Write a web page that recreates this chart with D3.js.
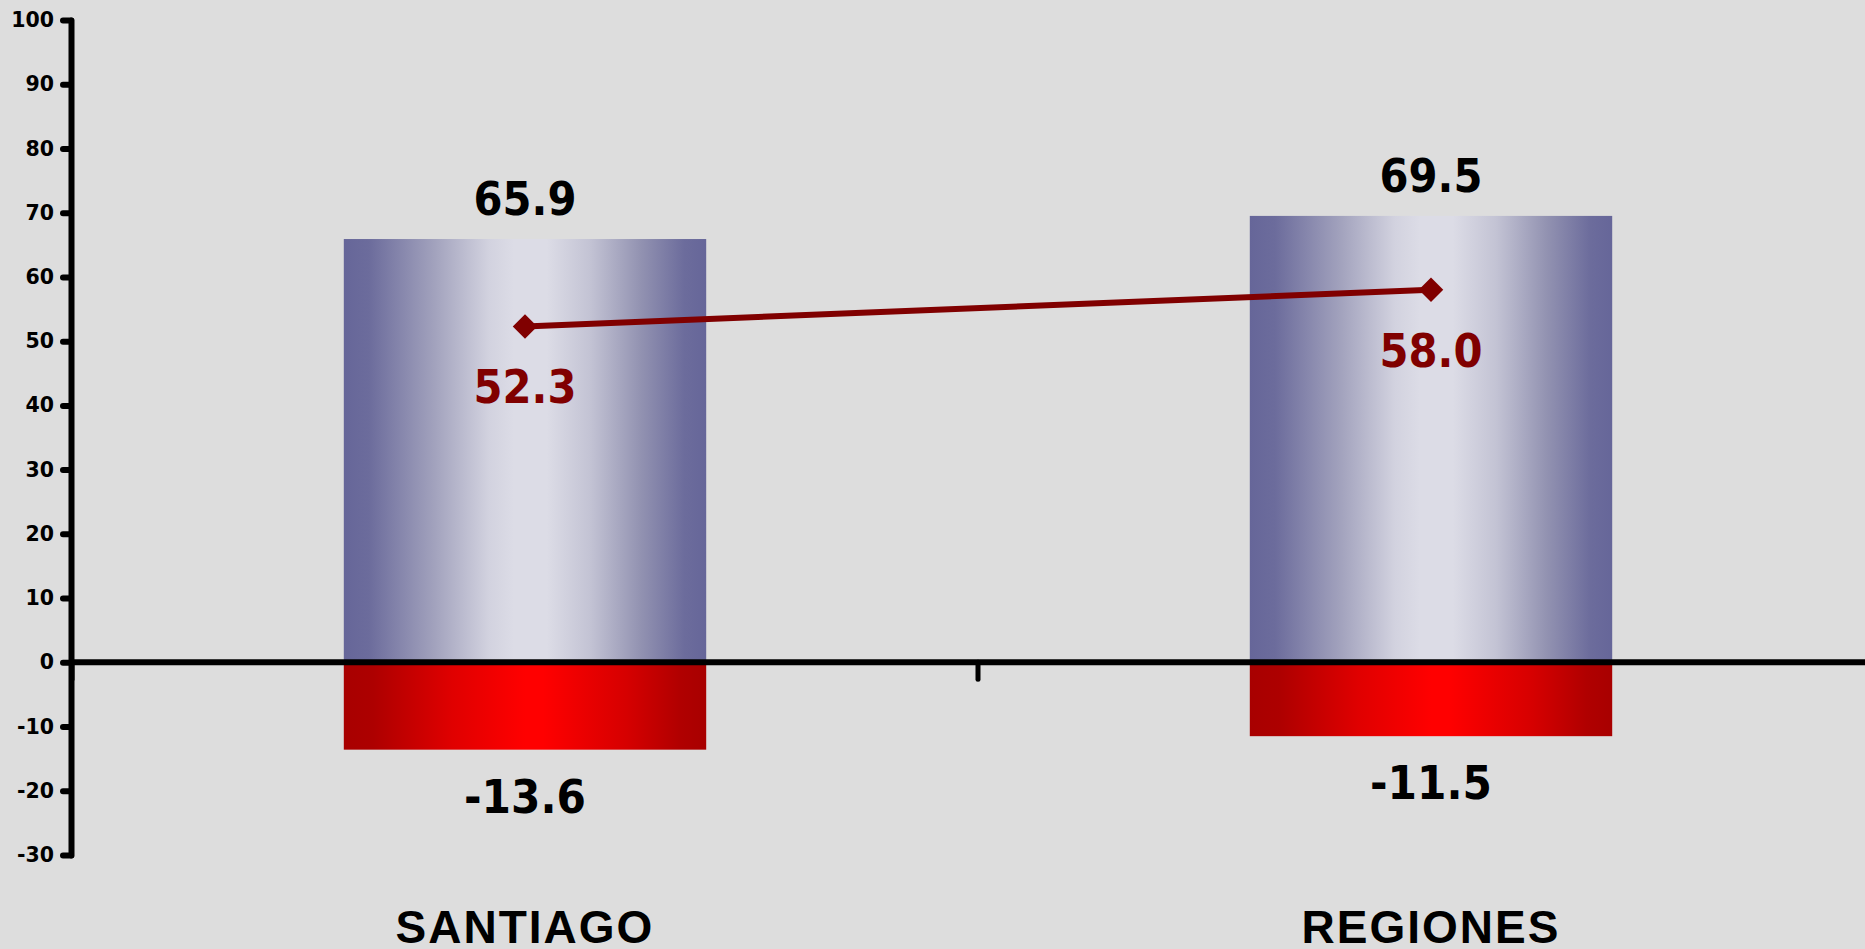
<!DOCTYPE html>
<html>
<head>
<meta charset="utf-8">
<script src="https://cdn.jsdelivr.net/npm/d3@7"></script>
<style>
  html, body { margin: 0; padding: 0; background: #dddddd; overflow: hidden; }
  svg { display: block; }
</style>
</head>
<body>
<svg id="chart" width="1865" height="949"></svg>
<script>
// Region categories and their values
const categories = ["SANTIAGO", "REGIONES"];
const positiveValues = [65.9, 69.5];
const negativeValues = [-13.6, -11.5];
const netValues = [52.3, 58.0];
const yTicks = [-30, -20, -10, 0, 10, 20, 30, 40, 50, 60, 70, 80, 90, 100];

const svg = d3.select("#chart");
const W = 1865, H = 949;

// Plain hyphen for negative numbers
const locale = d3.formatLocale({ decimal: ".", thousands: ",", grouping: [3], currency: ["", ""], minus: "-" });
const fmt = locale.format(".1f");
const tickFmt = locale.format("d");

svg.append("rect").attr("width", W).attr("height", H).attr("fill", "#dddddd");

const y = d3.scaleLinear().domain([-30, 100]).range([855, 20]);
const x = d3.scaleBand().domain(categories).range([72, 1884])
  .paddingInner(0.6).paddingOuter(0.3);

const defs = svg.append("defs");
const blue = defs.append("linearGradient").attr("id", "gradBlue")
  .attr("x1", "0%").attr("x2", "100%").attr("y1", "0%").attr("y2", "0%");
[[0, "#666699"], [0.07, "#6c6c9c"], [0.25, "#a2a2bd"], [0.4, "#d2d2df"], [0.47, "#dcdce6"],
 [0.56, "#dcdce6"], [0.68, "#c3c3d4"], [0.82, "#9292b1"], [0.94, "#6c6c9c"], [1, "#666699"]]
  .forEach(([o, c]) => blue.append("stop").attr("offset", o).attr("stop-color", c));

const red = defs.append("linearGradient").attr("id", "gradRed")
  .attr("x1", "0%").attr("x2", "100%").attr("y1", "0%").attr("y2", "0%");
[[0, "#a80000"], [0.08, "#ad0000"], [0.3, "#e00000"], [0.5, "#ff0000"], [0.55, "#ff0000"],
 [0.78, "#d60000"], [0.93, "#b00000"], [1, "#a80000"]]
  .forEach(([o, c]) => red.append("stop").attr("offset", o).attr("stop-color", c));

// Positive bars
svg.append("g").selectAll("rect").data(categories).join("rect")
  .attr("x", d => x(d))
  .attr("width", x.bandwidth())
  .attr("y", (d, i) => y(positiveValues[i]))
  .attr("height", (d, i) => y(0) - y(positiveValues[i]))
  .attr("fill", "url(#gradBlue)");

// Negative bars
svg.append("g").selectAll("rect").data(categories).join("rect")
  .attr("x", d => x(d))
  .attr("width", x.bandwidth())
  .attr("y", y(0))
  .attr("height", (d, i) => y(negativeValues[i]) - y(0))
  .attr("fill", "url(#gradRed)");

// Y axis
const yAxis = d3.axisLeft(y).tickValues(yTicks).tickFormat(tickFmt)
  .tickSize(8).tickSizeOuter(0).tickPadding(9);
const gy = svg.append("g").attr("transform", "translate(71,0)").call(yAxis);
gy.select(".domain").attr("stroke", "#000").attr("stroke-width", 6).attr("stroke-linecap", "round");
gy.selectAll(".tick line").attr("stroke", "#000").attr("stroke-width", 6).attr("stroke-linecap", "round");
gy.selectAll(".tick text")
  .attr("fill", "#000")
  .style("font-family", "'DejaVu Sans', Verdana, sans-serif")
  .style("font-weight", "bold")
  .style("font-size", "20.5px");

// X axis line at zero with category boundary ticks
const bounds = [x.range()[0], x.range()[0] + x.step(), x.range()[1]];
svg.append("g").selectAll("line").data(bounds).join("line")
  .attr("x1", d => d).attr("x2", d => d)
  .attr("y1", y(0)).attr("y2", y(0) + 17)
  .attr("stroke", "#000").attr("stroke-width", 5).attr("stroke-linecap", "round");
svg.append("line")
  .attr("x1", 71).attr("x2", W)
  .attr("y1", y(0)).attr("y2", y(0))
  .attr("stroke", "#000").attr("stroke-width", 6);

// Net line with diamond markers
const cx = d => x(d) + x.bandwidth() / 2;
const line = d3.line().x(d => cx(d[0])).y(d => y(d[1]));
svg.append("path")
  .datum(categories.map((c, i) => [c, netValues[i]]))
  .attr("d", line)
  .attr("fill", "none").attr("stroke", "#800000").attr("stroke-width", 6);
svg.append("g").selectAll("path").data(categories).join("path")
  .attr("d", d3.symbol().type(d3.symbolSquare).size(300))
  .attr("transform", (d, i) => `translate(${cx(d)},${y(netValues[i])}) rotate(45)`)
  .attr("fill", "#800000");

const numFont = "'DejaVu Sans', Verdana, sans-serif";

// Value labels
svg.append("g").selectAll("text").data(categories).join("text")
  .attr("x", cx).attr("y", (d, i) => y(positiveValues[i]) - 24)
  .attr("text-anchor", "middle")
  .style("font-family", numFont).style("font-weight", "bold").style("font-size", "46px")
  .attr("textLength", 103).attr("lengthAdjust", "spacingAndGlyphs")
  .attr("fill", "#000")
  .text((d, i) => fmt(positiveValues[i]));

svg.append("g").selectAll("text").data(categories).join("text")
  .attr("x", cx).attr("y", (d, i) => y(negativeValues[i]) + 63)
  .attr("text-anchor", "middle")
  .style("font-family", numFont).style("font-weight", "bold").style("font-size", "46px")
  .attr("textLength", 122).attr("lengthAdjust", "spacingAndGlyphs")
  .attr("fill", "#000")
  .text((d, i) => fmt(negativeValues[i]));

svg.append("g").selectAll("text").data(categories).join("text")
  .attr("x", cx).attr("y", (d, i) => y(netValues[i]) + 77)
  .attr("text-anchor", "middle")
  .style("font-family", numFont).style("font-weight", "bold").style("font-size", "46px")
  .attr("textLength", 103).attr("lengthAdjust", "spacingAndGlyphs")
  .attr("fill", "#800000")
  .text((d, i) => fmt(netValues[i]));

// Category labels
svg.append("g").selectAll("text").data(categories).join("text")
  .attr("x", cx).attr("y", 943)
  .attr("text-anchor", "middle")
  .style("font-family", "'Liberation Sans', Arial, sans-serif")
  .style("font-weight", "bold").style("font-size", "46px")
  .style("letter-spacing", "2px")
  .attr("fill", "#000")
  .text(d => d);
</script>
</body>
</html>
